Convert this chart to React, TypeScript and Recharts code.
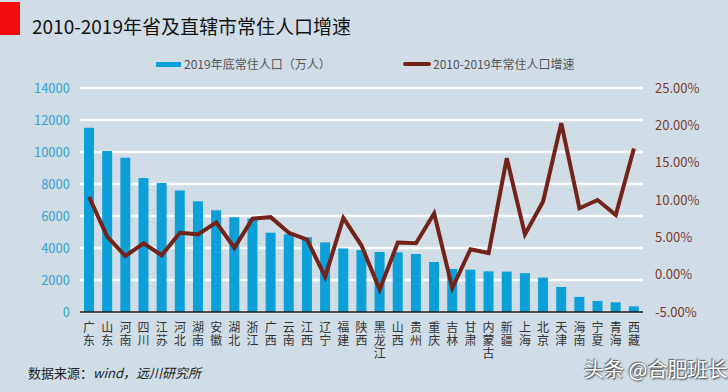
import React from "react";
import {
  ComposedChart,
  Bar,
  Line,
  XAxis,
  YAxis,
  CartesianGrid,
} from "recharts";

const provinces = [
  "广东", "山东", "河南", "四川", "江苏", "河北", "湖南", "安徽", "湖北", "浙江",
  "广西", "云南", "江西", "辽宁", "福建", "陕西", "黑龙江", "山西", "贵州", "重庆",
  "吉林", "甘肃", "内蒙古", "新疆", "上海", "北京", "天津", "海南", "宁夏", "青海", "西藏",
];

// 2019年底常住人口（万人）
const population = [
  11521, 10070, 9640, 8375, 8070, 7592, 6918, 6366, 5927, 5850,
  4960, 4858, 4666, 4352, 3973, 3876, 3751, 3729, 3623, 3124,
  2691, 2647, 2540, 2523, 2428, 2154, 1562, 945, 695, 608, 351,
];

// 2010-2019年常住人口增速 (%)
const growth = [
  10.4, 5.1, 2.5, 4.2, 2.6, 5.6, 5.4, 7.0, 3.6, 7.5,
  7.7, 5.6, 4.7, -0.3, 7.6, 3.9, -2.0, 4.3, 4.2, 8.2,
  -1.8, 3.4, 2.9, 15.6, 5.4, 9.8, 20.3, 8.9, 10.0, 8.0, 16.9,
];

const leftTicks = [0, 2000, 4000, 6000, 8000, 10000, 12000, 14000];
const rightTicks = [-5, 0, 5, 10, 15, 20, 25];

const data = provinces.map((name, i) => ({
  name,
  pop: population[i],
  rate: growth[i],
}));

const FONT = '"Noto Sans CJK SC", "Noto Sans", sans-serif';

// province names are written top to bottom, one character per line
const VerticalTick = (props: any) => {
  const { x, y, payload } = props;
  const chars = String(payload.value).split("");
  return (
    <g>
      {chars.map((c, i) => (
        <text
          key={i}
          x={x}
          y={y + 12 + i * 13}
          textAnchor="middle"
          fontSize={12}
          fill="#333"
          fontFamily={FONT}
        >
          {c}
        </text>
      ))}
    </g>
  );
};

const App = () => {
  return (
    <div
      style={{
        position: "absolute",
        left: 0,
        top: 0,
        width: 728,
        height: 392,
        background: "#d0dde6",
        fontFamily: FONT,
        overflow: "hidden",
      }}
    >
      <div
        style={{
          position: "absolute",
          left: 0,
          top: 2,
          width: 20,
          height: 33,
          background: "#f40d0d",
        }}
      />
      <div
        style={{
          position: "absolute",
          left: 32,
          top: 12,
          fontSize: 19,
          color: "#111",
          whiteSpace: "nowrap",
        }}
      >
        2010-2019年省及直辖市常住人口增速
      </div>

      {/* legend */}
      <div
        style={{
          position: "absolute",
          left: 156,
          top: 62,
          width: 25,
          height: 5,
          background: "#0d9fd8",
        }}
      />
      <div
        style={{
          position: "absolute",
          left: 184,
          top: 55,
          fontSize: 12,
          color: "#555",
          whiteSpace: "nowrap",
        }}
      >
        2019年底常住人口（万人）
      </div>
      <div
        style={{
          position: "absolute",
          left: 403,
          top: 62,
          width: 28,
          height: 4,
          borderRadius: 2,
          background: "#74231a",
        }}
      />
      <div
        style={{
          position: "absolute",
          left: 433,
          top: 55,
          fontSize: 12,
          color: "#555",
          whiteSpace: "nowrap",
        }}
      >
        2010-2019年常住人口增速
      </div>

      <div style={{ position: "absolute", left: 0, top: 0 }}>
        <ComposedChart
          width={728}
          height={392}
          data={data}
          margin={{ top: 88, right: 0, bottom: 0, left: 0 }}
        >
          <CartesianGrid
            vertical={false}
            stroke="#ffffff"
            strokeWidth={2.5}
            yAxisId="left"
          />
          <XAxis
            dataKey="name"
            interval={0}
            height={80}
            tickLine={false}
            axisLine={{ stroke: "#111", strokeWidth: 1.5 }}
            tick={<VerticalTick />}
          />
          <YAxis
            yAxisId="left"
            orientation="left"
            width={80}
            domain={[0, 14000]}
            ticks={leftTicks}
            tickLine={false}
            axisLine={false}
            tickSize={0}
            tickMargin={10}
            tick={{ fill: "#3ba2d2", fontSize: 13, fontFamily: FONT }}
          />
          <YAxis
            yAxisId="right"
            orientation="right"
            width={85}
            domain={[-5, 25]}
            ticks={rightTicks}
            tickLine={false}
            axisLine={false}
            tickSize={0}
            tickMargin={12}
            tickFormatter={(v: number) => v.toFixed(2) + "%"}
            tick={{ fill: "#7a3a2c", fontSize: 13, fontFamily: FONT }}
          />
          <Bar
            yAxisId="left"
            dataKey="pop"
            fill="#0d9fd8"
            barSize={10}
            isAnimationActive={false}
          />
          <Line
            yAxisId="right"
            dataKey="rate"
            type="linear"
            stroke="#74231a"
            strokeWidth={4}
            dot={false}
            activeDot={false}
            isAnimationActive={false}
          />
        </ComposedChart>
      </div>

      <div
        style={{
          position: "absolute",
          left: 28,
          top: 363,
          fontSize: 13,
          color: "#222",
          whiteSpace: "nowrap",
        }}
      >
        数据来源：<i>wind，远川研究所</i>
      </div>
      <div
        style={{
          position: "absolute",
          left: 584,
          top: 354,
          fontSize: 20,
          color: "#fff",
          whiteSpace: "nowrap",
          textShadow: "1px 1px 2px #333, -1px -1px 1px #666",
        }}
      >
        头条 @合肥班长
      </div>
    </div>
  );
};

export default App;
